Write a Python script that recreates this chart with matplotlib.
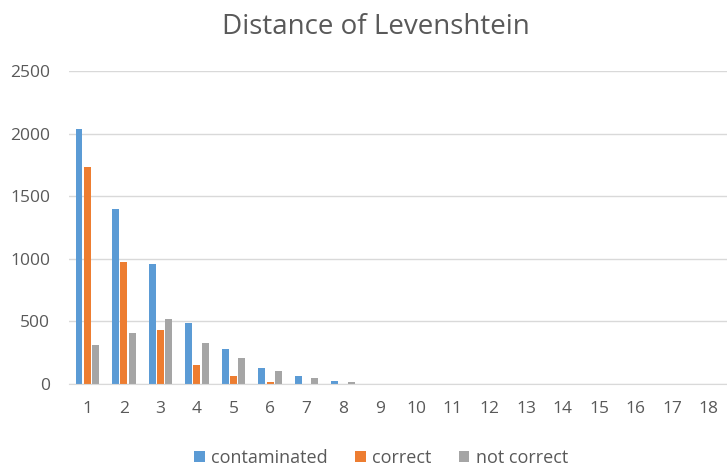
import numpy as np
import matplotlib.pyplot as plt

plt.rcParams["font.family"] = ["Open Sans", "DejaVu Sans"]

# Levenshtein distance categories and counts per series
distances = [str(d) for d in range(1, 19)]
contaminated = [2040, 1397, 955, 491, 276, 128, 61, 27, 3, 1, 0, 0, 0, 0, 0, 0, 0, 0]
correct = [1736, 976, 432, 149, 60, 16, 3, 1, 0, 0, 0, 0, 0, 0, 0, 0, 0, 0]
not_correct = [310, 411, 523, 331, 205, 107, 48, 16, 2, 1, 0, 0, 0, 0, 0, 0, 0, 0]

text_color = "#595959"
grid_color = "#D9D9D9"

fig = plt.figure(figsize=(7.27, 4.67), dpi=100)
ax = fig.add_axes([69 / 727, 83 / 467, 658 / 727, 313 / 467])

x = np.arange(len(distances))
w = 0.19
step = 0.227
ax.bar(x - step, contaminated, w, color="#5B9BD5", label="contaminated")
ax.bar(x, correct, w, color="#ED7D31", label="correct")
ax.bar(x + step, not_correct, w, color="#A5A5A5", label="not correct")

ax.set_xlim(-0.5, len(distances) - 0.5)
ax.set_ylim(0, 2500)
ax.set_yticks(range(0, 2501, 500))
ax.set_xticks(x)
ax.set_xticklabels(distances)

ax.yaxis.grid(True, color=grid_color, linewidth=1)
ax.set_axisbelow(True)
for side in ["top", "right", "left"]:
    ax.spines[side].set_visible(False)
ax.spines["bottom"].set_color(grid_color)
ax.tick_params(axis="both", length=0, labelsize=12.5, colors=text_color)
ax.tick_params(axis="x", pad=12)
ax.tick_params(axis="y", pad=13.5)

fig.text(0.517, 0.943, "Distance of Levenshtein", ha="center", va="center",
         fontsize=20, color=text_color)

fig.legend(loc="center", bbox_to_anchor=(381 / 727, 1 - 458 / 467), ncol=3,
           frameon=False, fontsize=13, labelcolor=text_color,
           handlelength=0.6, handleheight=0.6, handletextpad=0.35,
           columnspacing=1.5)

fig.savefig("out.png", dpi=100)
